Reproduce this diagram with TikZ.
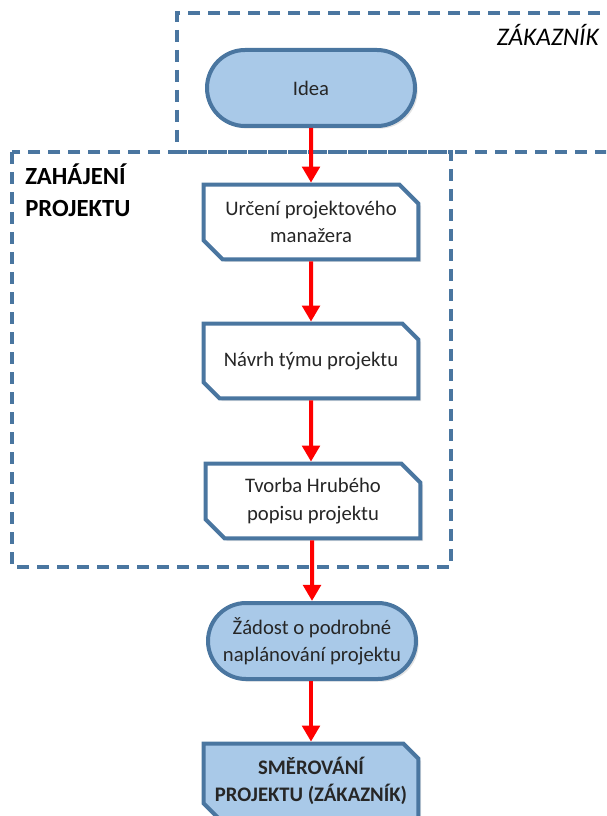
\documentclass[tikz,border=0pt]{standalone}
\usepackage{fontspec}
\setmainfont{Carlito}
\usetikzlibrary{shapes.misc,arrows.meta,shadows}
\definecolor{frameblue}{HTML}{4A76A0}
\definecolor{fillblue}{HTML}{A9C9E8}
\definecolor{flowred}{HTML}{FF0000}
\tikzset{
  base/.style={draw=frameblue, line width=3pt, align=center, font=\fontsize{15.5}{20.5}\selectfont,
    text=black!85, drop shadow={opacity=0.22, shadow xshift=2pt, shadow yshift=-2pt}},
  terminal/.style={base, rounded rectangle, fill=fillblue, minimum width=160pt, minimum height=57pt, inner sep=2pt},
  process/.style={base, chamfered rectangle, chamfered rectangle corners={north east,south west},
    chamfered rectangle xsep=11pt, fill=white, minimum width=161pt, minimum height=56pt, inner sep=2pt},
  processblue/.style={process, fill=fillblue, font=\fontsize{15.5}{20.5}\selectfont\bfseries,
    chamfered rectangle xsep=8pt, inner xsep=0pt},
  flow/.style={draw=flowred, line width=3pt, -{Triangle[length=12pt,width=13pt]}},
  zone/.style={draw=frameblue, line width=2.5pt, dash pattern=on 9pt off 6pt},
  zonelabel/.style={text=black, inner sep=0pt}
}
\begin{document}
\begin{tikzpicture}[x=0.75pt, y=-0.75pt]
  \useasboundingbox (0,0) rectangle (606,816);
  \clip (0,0) rectangle (606,816);

  % customer zone and project start zone
  \draw[zone] (640,13) -- (177,13) -- (177,152) -- (640,152);
  \draw[zone] (12,152) rectangle (451,567);
  \node[zonelabel, font=\fontsize{19}{22}\selectfont\itshape, anchor=east] (zak) at (599,35) {ZÁKAZNÍK};
  \node[zonelabel, font=\fontsize{18.5}{23.5}\selectfont\bfseries, anchor=north west, align=left] (zah) at (25,164) {ZAHÁJENÍ\\PROJEKTU};

  % flow steps
  \node[terminal] (idea) at (311,88) {Idea};
  \node[process] (b1) at (311,222) {Určení projektového\\manažera};
  \node[process] (b2) at (311,361) {Návrh týmu projektu};
  \node[process] (b3) at (313,501) {Tvorba Hrubého\\popisu projektu};
  \node[terminal] (req) at (312,641) {Žádost o podrobné\\naplánování projektu};
  \node[processblue] (fin) at (311,781) {SMĚROVÁNÍ\\PROJEKTU (ZÁKAZNÍK)};

  % connectors
  \draw[flow] (idea) -- (b1);
  \draw[flow] (b1) -- (b2);
  \draw[flow] (b2) -- (b2 |- b3.north);
  \draw[flow] (b3.south -| req) -- (req);
  \draw[flow] (req.south -| fin) -- (fin);
\end{tikzpicture}
\end{document}
